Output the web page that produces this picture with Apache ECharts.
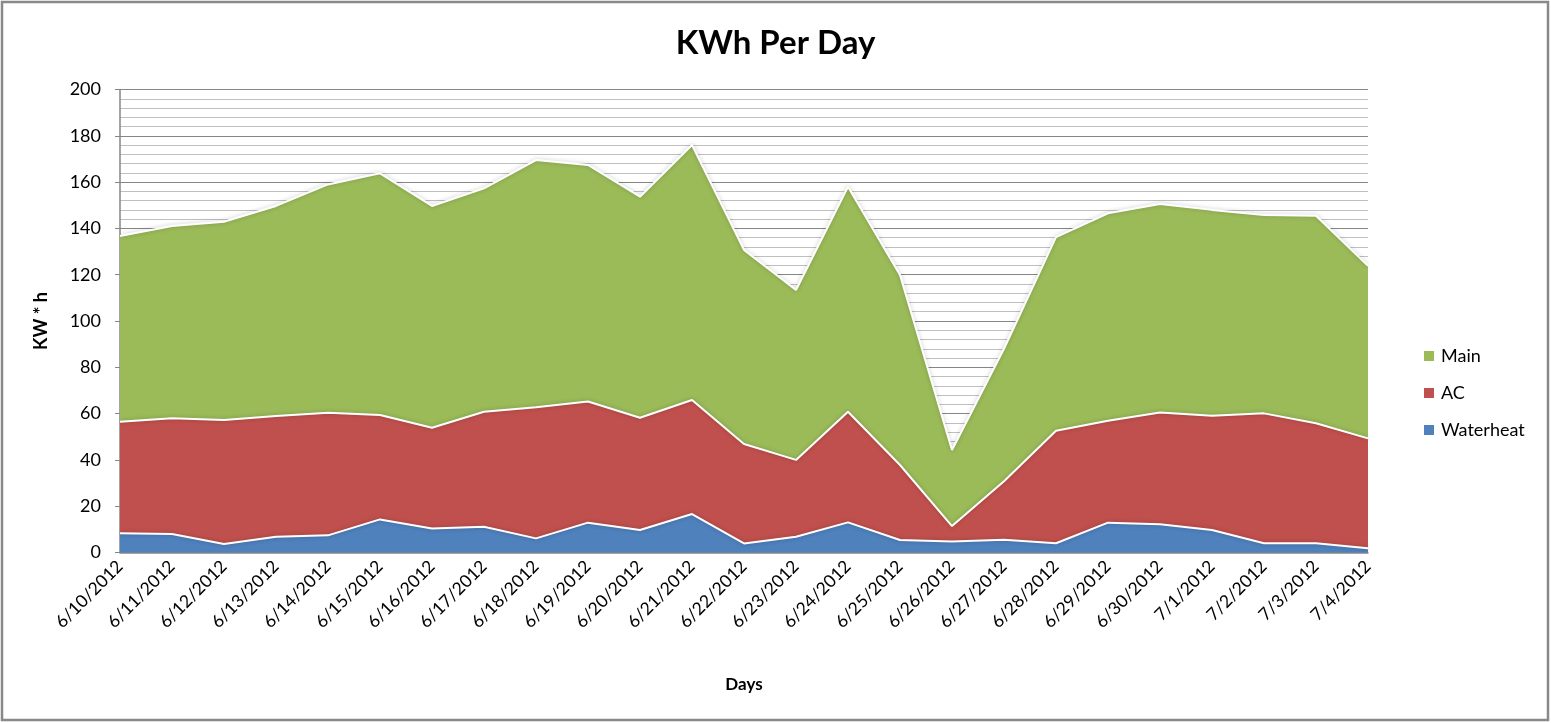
<!DOCTYPE html>
<html>
<head>
<meta charset="utf-8">
<script src="https://cdn.jsdelivr.net/npm/echarts@6/dist/echarts.min.js"></script>
<style>html,body{margin:0;padding:0;background:#fff;}#chart{width:1551px;height:723px;}</style>
</head>
<body>
<div id="chart"></div>
<script>
const days = ['6/10/2012','6/11/2012','6/12/2012','6/13/2012','6/14/2012','6/15/2012','6/16/2012','6/17/2012','6/18/2012','6/19/2012','6/20/2012','6/21/2012','6/22/2012','6/23/2012','6/24/2012','6/25/2012','6/26/2012','6/27/2012','6/28/2012','6/29/2012','6/30/2012','7/1/2012','7/2/2012','7/3/2012','7/4/2012'];
const waterheat = [8.3, 8.0, 3.7, 6.8, 7.4, 14.3, 10.4, 11.1, 6.1, 12.9, 9.7, 16.6, 3.9, 6.8, 13.0, 5.4, 4.7, 5.5, 4.0, 12.9, 12.2, 9.7, 4.0, 4.0, 1.8];
const ac = [48.2, 50.0, 53.5, 52.2, 53.0, 45.1, 43.5, 49.7, 56.6, 52.3, 48.5, 49.3, 43.0, 33.2, 47.8, 32.4, 6.7, 25.3, 48.6, 44.0, 48.3, 49.4, 56.1, 51.8, 47.5];
const main = [80.2, 83.0, 85.7, 90.7, 98.6, 104.4, 95.8, 96.5, 106.8, 102.2, 95.5, 110.1, 83.8, 73.4, 97.2, 82.1, 32.9, 57.2, 83.6, 89.6, 90.0, 88.9, 85.7, 89.7, 74.5];
const seriesNames = ['Main', 'AC', 'Waterheat'];
const colors = {Main: '#9BBB59', AC: '#C0504D', Waterheat: '#4F81BD'};

const FONT = 'Lato, "Open Sans", sans-serif';
const chart = echarts.init(document.getElementById('chart'), null, {renderer: 'canvas'});

function areaSeries(name, data, z) {
  return {
    name: name,
    type: 'line',
    stack: 'total',
    data: data,
    symbol: 'none',
    z: z,
    lineStyle: {color: '#ffffff', width: 2, shadowBlur: 4, shadowColor: 'rgba(0,0,0,0.25)'},
    itemStyle: {color: colors[name]},
    areaStyle: {color: colors[name], opacity: 1},
    emphasis: {disabled: true}
  };
}

chart.setOption({
  animation: false,
  textStyle: {fontFamily: FONT},
  title: {
    text: 'KWh Per Day',
    left: 'center',
    top: 22,
    textStyle: {fontFamily: FONT, fontSize: 33, fontWeight: 'bold', color: '#000'}
  },
  legend: {
    data: seriesNames,
    orient: 'vertical',
    left: 1419,
    top: 342,
    itemWidth: 10,
    itemHeight: 10,
    itemGap: 19,
    icon: 'rect',
    textStyle: {fontFamily: FONT, fontSize: 18, color: '#000', padding: [0, 0, 0, 2]}
  },
  grid: {left: 120, right: 183, top: 89.5, bottom: 170.5, containLabel: false},
  xAxis: {
    type: 'category',
    data: days,
    boundaryGap: false,
    name: 'Days',
    nameLocation: 'middle',
    nameGap: 124,
    nameTextStyle: {fontFamily: FONT, fontSize: 17, fontWeight: 'bold', color: '#000'},
    axisLine: {lineStyle: {color: '#868686', width: 1.5}},
    axisTick: {show: false},
    axisLabel: {rotate: 45, fontFamily: FONT, fontSize: 17.5, color: '#000', margin: 11, interval: 0}
  },
  yAxis: {
    type: 'value',
    min: 0,
    max: 200,
    interval: 20,
    name: 'KW * h',
    nameLocation: 'middle',
    nameGap: 70,
    nameTextStyle: {fontFamily: FONT, fontSize: 18, fontWeight: 'bold', color: '#000'},
    axisLine: {show: true, lineStyle: {color: '#868686', width: 1.5}},
    axisTick: {show: true, length: 5, lineStyle: {color: '#868686'}},
    axisLabel: {fontFamily: FONT, fontSize: 18, color: '#000', margin: 19},
    splitLine: {show: true, lineStyle: {color: '#868686', width: 1}},
    minorTick: {show: false, splitNumber: 5},
    minorSplitLine: {show: true, lineStyle: {color: '#BFBFBF', width: 1}}
  },
  series: [
    areaSeries('Waterheat', waterheat, 5),
    areaSeries('AC', ac, 4),
    areaSeries('Main', main, 3)
  ],
  graphic: [{
    type: 'rect',
    shape: {x: 2, y: 2, width: 1546, height: 718},
    style: {fill: 'none', stroke: '#898989', lineWidth: 2.5},
    silent: true
  }]
});
</script>
</body>
</html>
